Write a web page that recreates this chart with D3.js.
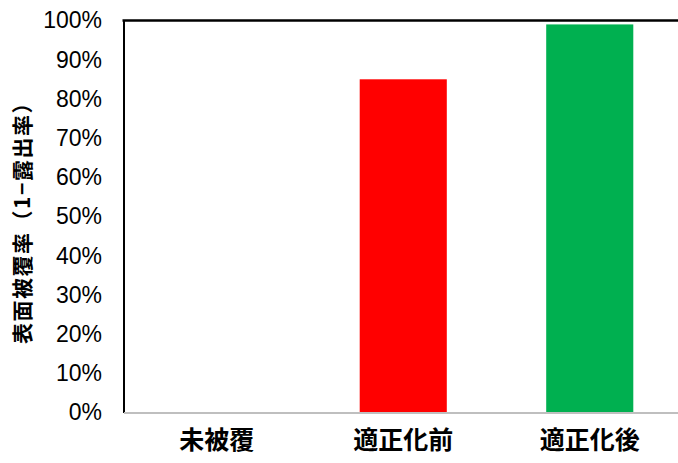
<!DOCTYPE html>
<html><head><meta charset="utf-8">
<script src="https://cdn.jsdelivr.net/npm/d3@7"></script>
<style>body{margin:0;background:#fff}svg{display:block}</style>
</head><body><svg id="c" width="678" height="463"></svg>
<script>
const categories = ["未被覆", "適正化前", "適正化後"];
const values = [0, 0.85, 0.99];
const colors = ["#ff0000", "#ff0000", "#00b050"];
const yTicks = [0, 0.1, 0.2, 0.3, 0.4, 0.5, 0.6, 0.7, 0.8, 0.9, 1.0];
const yTitle = "表面被覆率（1−露出率）";

(function () {
const svg = d3.select("#c");
const mLeft = 123.5, mRight = 683, mTop = 20.5, mBottom = 412.5;
const x = d3.scaleBand().domain(categories).range([mLeft, mRight]).paddingInner(0.533).paddingOuter(0.2665);
const y = d3.scaleLinear().domain([0, 1]).range([mBottom, mTop]);

svg.selectAll("rect.bar").data(values).enter().append("rect")
  .attr("class", "bar")
  .attr("x", (d, i) => x(categories[i]))
  .attr("width", x.bandwidth())
  .attr("y", d => y(d))
  .attr("height", d => mBottom - y(d))
  .attr("fill", (d, i) => colors[i]);

const ya = svg.append("g").attr("transform", `translate(${mLeft},0)`)
  .call(d3.axisLeft(y).tickValues(yTicks).tickFormat(d3.format(".0%")).tickSize(0).tickPadding(21.5));
ya.select(".domain").attr("stroke", "#000").attr("stroke-width", 2);
ya.selectAll("text").attr("font-family", "Liberation Sans, Arial, sans-serif").attr("font-size", 23).attr("fill", "#000");

svg.append("line").attr("x1", mLeft - 1).attr("x2", 678).attr("y1", mTop).attr("y2", mTop)
  .attr("stroke", "#000").attr("stroke-width", 2.5);

const xa = svg.append("g").attr("transform", `translate(0,${mBottom})`)
  .call(d3.axisBottom(x).tickSize(0).tickPadding(19));
xa.select(".domain").attr("stroke", "#bfbfbf").attr("stroke-width", 2);
xa.selectAll("text").attr("font-family", "Noto Sans CJK JP, sans-serif").attr("font-weight", "bold")
  .attr("font-size", 25).attr("fill", "#000");

svg.append("text").attr("transform", `translate(21,${(mTop + mBottom) / 2 + 1}) rotate(-90)`)
  .attr("text-anchor", "middle").attr("dominant-baseline", "central")
  .attr("font-family", "Noto Sans CJK JP, sans-serif").attr("font-weight", "bold").attr("font-size", 21)
  .attr("letter-spacing", 1.5)
  .text(yTitle);
})();
</script></body></html>
